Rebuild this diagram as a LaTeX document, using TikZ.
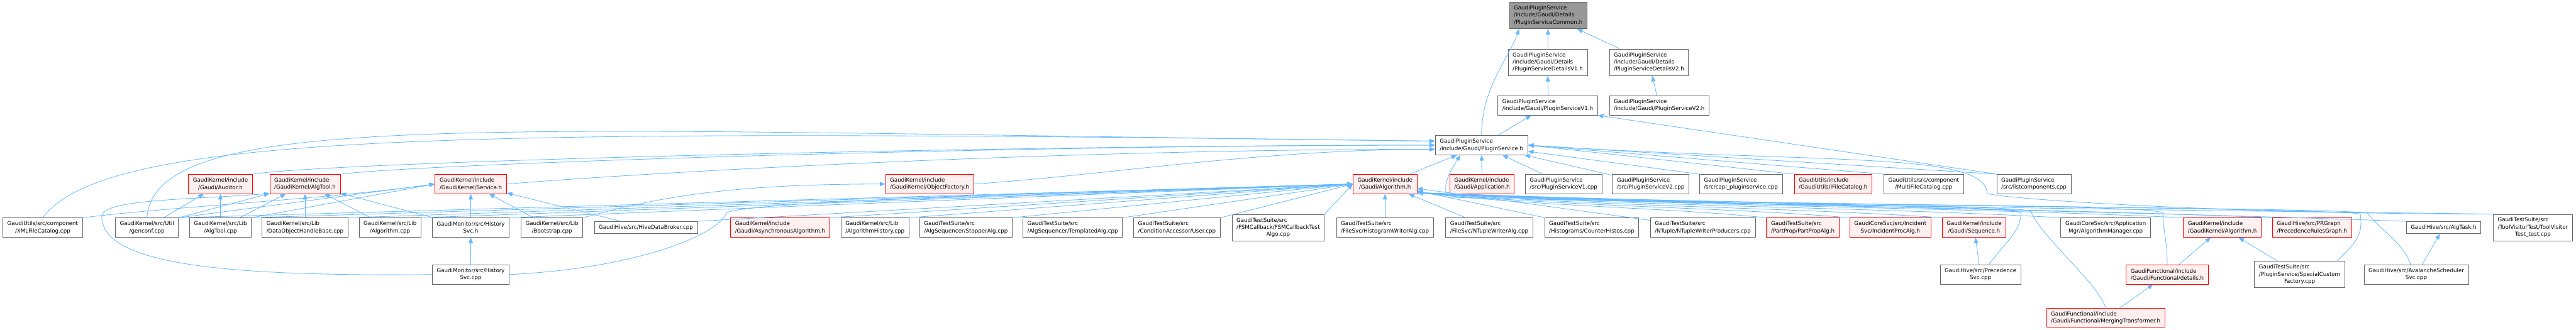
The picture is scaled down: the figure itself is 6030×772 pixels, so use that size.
\documentclass[tikz,border=0pt]{standalone}
\usepackage{fontspec}
\setmainfont{DejaVu Sans}
\usetikzlibrary{arrows.meta}
\definecolor{edgeblue}{HTML}{63B8FF}
\definecolor{boxgray}{HTML}{666666}
\definecolor{rootgray}{HTML}{999999}
\definecolor{hotfill}{HTML}{FFF0F0}
\newlength\lablen
\newcommand{\centrel}[2]{\settowidth{\lablen}{#1}\makebox[\lablen]{#2}}
\begin{document}
\begin{tikzpicture}[x=1pt,y=1pt,
  file/.style={draw=boxgray,fill=white,line width=1.3pt,inner xsep=10.5pt,inner ysep=2pt,minimum height=45pt,font=\fontsize{12.8}{16.7}\selectfont},
  hot/.style={file,draw=red,fill=hotfill},
  root/.style={file,fill=rootgray},
  one/.style={minimum height=28pt},
  three/.style={minimum height=62pt},
  inc/.style={draw=edgeblue,line width=1.2pt,-{Triangle[length=13pt,width=10pt]}}]
\useasboundingbox (0,0) rectangle (6030,-772);
\node[root,three,align=left] (common) at (3624,-36) {GaudiPluginService\\/include/Gaudi/Details\\/PluginServiceCommon.h};
\node[file,three,align=left] (detv1) at (3623,-146) {GaudiPluginService\\/include/Gaudi/Details\\/PluginServiceDetailsV1.h};
\node[file,three,align=left] (detv2) at (3860,-146) {GaudiPluginService\\/include/Gaudi/Details\\/PluginServiceDetailsV2.h};
\node[file,align=left] (psv1h) at (3623,-247) {GaudiPluginService\\/include/Gaudi/PluginServiceV1.h};
\node[file,align=left] (psv2h) at (3884,-247) {GaudiPluginService\\/include/Gaudi/PluginServiceV2.h};
\node[file,align=left] (psh) at (3468,-340) {GaudiPluginService\\/include/Gaudi/PluginService.h};
\node[hot,align=center] (auditor) at (516,-431) {GaudiKernel/include\\/Gaudi/Auditor.h};
\node[hot,align=left] (algtoolh) at (714,-431) {GaudiKernel/include\\/GaudiKernel/AlgTool.h};
\node[hot,align=left] (serviceh) at (1102,-431) {GaudiKernel/include\\/GaudiKernel/Service.h};
\node[hot,align=left] (objfact) at (2176,-431) {GaudiKernel/include\\/GaudiKernel/ObjectFactory.h};
\node[hot,align=center] (galgh) at (3242,-431) {GaudiKernel/include\\/Gaudi/Algorithm.h};
\node[hot,align=left] (apph) at (3469,-431) {GaudiKernel/include\\/Gaudi/Application.h};
\node[file,align=left] (psv1cpp) at (3660,-431) {GaudiPluginService\\/src/PluginServiceV1.cpp};
\node[file,align=left] (psv2cpp) at (3864,-431) {GaudiPluginService\\/src/PluginServiceV2.cpp};
\node[file,align=left] (capi) at (4075,-431) {GaudiPluginService\\/src/capi\_pluginservice.cpp};
\node[hot,align=left] (ifilecat) at (4291,-431) {GaudiUtils/include\\/GaudiUtils/IFileCatalog.h};
\node[file,align=center] (multicat) at (4503,-431) {GaudiUtils/src/component\\/MultiFileCatalog.cpp};
\node[file,align=left] (listcomp) at (4761,-431) {GaudiPluginService\\/src/listcomponents.cpp};
\node[file,align=center] (xmlcat) at (100,-533) {GaudiUtils/src/component\\/XMLFileCatalog.cpp};
\node[file,align=center] (genconf) at (344,-533) {GaudiKernel/src/Util\\/genconf.cpp};
\node[file,align=center] (algtoolcpp) at (516,-533) {GaudiKernel/src/Lib\\/AlgTool.cpp};
\node[file,align=left] (dohb) at (714,-533) {GaudiKernel/src/Lib\\/DataObjectHandleBase.cpp};
\node[file,align=center] (algcpp) at (913,-533) {GaudiKernel/src/Lib\\/Algorithm.cpp};
\node[file,align=center] (histsvch) at (1102,-533) {GaudiMonitor/src/History\\Svc.h};
\node[file,align=center] (bootstrap) at (1292,-533) {GaudiKernel/src/Lib\\/Bootstrap.cpp};
\node[file,one] (hivebroker) at (1512,-533) {GaudiHive/src/HiveDataBroker.cpp};
\node[hot,align=left] (asyncalg) at (1826,-533) {GaudiKernel/include\\/Gaudi/AsynchronousAlgorithm.h};
\node[file,align=left] (alghist) at (2048,-533) {GaudiKernel/src/Lib\\/AlgorithmHistory.cpp};
\node[file,align=left] (stopper) at (2261,-533) {GaudiTestSuite/src\\/AlgSequencer/StopperAlg.cpp};
\node[file,align=left] (templ) at (2511,-533) {GaudiTestSuite/src\\/AlgSequencer/TemplatedAlg.cpp};
\node[file,align=left] (user) at (2755,-533) {GaudiTestSuite/src\\/ConditionAccessor/User.cpp};
\node[file,three,align=left] (fsm) at (2992,-533) {GaudiTestSuite/src\\/FSMCallback/FSMCallbackTest\\\centrel{/FSMCallback/FSMCallbackTest}{Algo.cpp}};
\node[file,align=left] (histwriter) at (3242,-533) {GaudiTestSuite/src\\/FileSvc/HistogramWriterAlg.cpp};
\node[file,align=left] (ntwriter) at (3486,-533) {GaudiTestSuite/src\\/FileSvc/NTupleWriterAlg.cpp};
\node[file,align=left] (counter) at (3726,-533) {GaudiTestSuite/src\\/Histograms/CounterHistos.cpp};
\node[file,align=left] (ntprod) at (3986,-533) {GaudiTestSuite/src\\/NTuple/NTupleWriterProducers.cpp};
\node[hot,align=left] (partprop) at (4220,-533) {GaudiTestSuite/src\\/PartProp/PartPropAlg.h};
\node[hot,align=center] (incident) at (4425,-533) {GaudiCoreSvc/src/Incident\\Svc/IncidentProcAlg.h};
\node[hot,align=center] (sequence) at (4621,-533) {GaudiKernel/include\\/Gaudi/Sequence.h};
\node[file,align=center] (algmgr) at (4929,-533) {GaudiCoreSvc/src/Application\\Mgr/AlgorithmManager.cpp};
\node[hot,align=left] (kalgh) at (5202,-533) {GaudiKernel/include\\/GaudiKernel/Algorithm.h};
\node[hot,align=left] (prgraph) at (5412,-533) {GaudiHive/src/PRGraph\\/PrecedenceRulesGraph.h};
\node[file,one] (algtask) at (5720,-533) {GaudiHive/src/AlgTask.h};
\node[file,three,align=left] (toolvisit) at (5929,-533) {GaudiTestSuite/src\\/ToolVisitorTest/ToolVisitor\\\centrel{/ToolVisitorTest/ToolVisitor}{Test\_test.cpp}};
\node[file,align=center] (histsvccpp) at (1102,-643) {GaudiMonitor/src/History\\Svc.cpp};
\node[file,align=center] (precsvc) at (4636,-643) {GaudiHive/src/Precedence\\Svc.cpp};
\node[hot,align=left] (details) at (5073,-643) {GaudiFunctional/include\\/Gaudi/Functional/details.h};
\node[file,three,align=left] (specialcf) at (5383,-643) {GaudiTestSuite/src\\/PluginService/SpecialCustom\\\centrel{/PluginService/SpecialCustom}{Factory.cpp}};
\node[file,align=center] (avalanche) at (5656,-643) {GaudiHive/src/AvalancheScheduler\\Svc.cpp};
\node[hot,align=left] (merging) at (4929,-744) {GaudiFunctional/include\\/Gaudi/Functional/MergingTransformer.h};
\draw[inc] (detv1) -- (common);
\draw[inc] (detv2) -- (common);
\draw[inc] (psh.north) .. controls +(0,110) and +(-25,-70) .. (common.205);
\draw[inc] (psv1h) -- (detv1);
\draw[inc] (psv2h) -- (detv2);
\draw[inc] (psh) -- (psv1h);
\draw[inc] (listcomp.north west) -- (psv1h.south east);
\draw[inc] (xmlcat.north) .. controls +(150,200) and +(-2300,30) .. (psh.175);
\draw[inc] (genconf.north) .. controls +(20,260) and +(-2200,25) .. (psh.175);
\draw[inc] (auditor.north east) .. controls +(200,30) and +(-1000,0) .. (psh.180);
\draw[inc] (algtoolh.north east) .. controls +(200,25) and +(-1000,0) .. (psh.180);
\draw[inc] (serviceh.east) .. controls +(300,25) and +(-900,0) .. (psh.185);
\draw[inc] (objfact.east) .. controls +(300,20) and +(-400,0) .. (psh.185);
\draw[inc] (galgh) -- (psh);
\draw[inc] (apph) -- (psh);
\draw[inc] (psv1cpp) -- (psh);
\draw[inc] (psv2cpp) -- (psh);
\draw[inc] (capi.north west) -- (psh);
\draw[inc] (ifilecat.north west) -- (psh.east);
\draw[inc] (multicat.north west) -- (psh.east);
\draw[inc] (listcomp.north west) -- (psh.east);
\draw[inc] (toolvisit.north west) .. controls +(-600,0) and +(60,-15) .. ++(-1184,48) .. controls +(-5,100) and +(700,-45) .. (psh.east);
\draw[inc] (specialcf.20) .. controls +(55,50) and +(5,-40) .. ++(55,110) .. controls +(-20,15) and +(150,-10) .. ++(-2138,40) .. controls +(-10,30) and +(-25,-40) .. (psh.205);
\draw[inc] (genconf) -- (auditor);
\draw[inc] (genconf.north east) -- (algtoolh.195);
\draw[inc] (genconf.north east) -- (serviceh.west);
\draw[inc] (genconf.north east) -- (galgh.west);
\draw[inc] (xmlcat.north east) .. controls +(200,25) and +(-250,-35) .. (serviceh.west);
\draw[inc] (algtoolcpp) -- (auditor);
\draw[inc] (algtoolcpp) -- (algtoolh);
\draw[inc] (algtoolcpp.north east) -- (serviceh.west);
\draw[inc] (algtoolcpp.north east) -- (galgh.west);
\draw[inc] (dohb) -- (algtoolh);
\draw[inc] (dohb.north east) -- (galgh.west);
\draw[inc] (algcpp) -- (algtoolh);
\draw[inc] (algcpp.north east) -- (galgh.west);
\draw[inc] (histsvch) -- (serviceh);
\draw[inc] (histsvch) -- (algtoolh);
\draw[inc] (histsvch.north east) -- (galgh.west);
\draw[inc] (histsvccpp) -- (histsvch);
\draw[inc] (histsvccpp.west) .. controls +(-500,-5) and +(0,-110) .. ++(-773,136) .. controls +(0,40) and +(-200,-15) .. (algtoolh.195);
\draw[inc] (histsvccpp.east) .. controls +(300,15) and +(-20,-50) .. ++(507,143) .. controls +(16,30) and +(-500,-15) .. (galgh.west);
\draw[inc] (bootstrap) -- (serviceh);
\draw[inc] (bootstrap.north east) .. controls +(150,40) and +(-400,0) .. (objfact.west);
\draw[inc] (hivebroker) -- (serviceh);
\draw[inc] (hivebroker.north east) -- (galgh.west);
\draw[inc] (asyncalg.north east) -- (galgh.west);
\draw[inc] (alghist.north east) -- (galgh.west);
\draw[inc] (stopper.north east) -- (galgh.west);
\draw[inc] (templ.north east) -- (galgh.west);
\draw[inc] (user.north east) -- (galgh.west);
\draw[inc] (fsm.north east) -- (galgh.west);
\draw[inc] (histwriter) -- (galgh);
\draw[inc] (ntwriter) -- (galgh);
\draw[inc] (counter) -- (galgh);
\draw[inc] (ntprod) -- (galgh);
\draw[inc] (partprop.north west) .. controls +(-250,25) and +(330,-35) .. (galgh.-15);
\draw[inc] (incident.north west) .. controls +(-300,25) and +(400,-35) .. (galgh.-15);
\draw[inc] (sequence.north west) .. controls +(-370,25) and +(490,-35) .. (galgh.-15);
\draw[inc] (algmgr.north west) .. controls +(-450,25) and +(600,-35) .. (galgh.-15);
\draw[inc] (kalgh.north west) .. controls +(-540,25) and +(720,-35) .. (galgh.-15);
\draw[inc] (prgraph.north west) .. controls +(-600,25) and +(800,-35) .. (galgh.-15);
\draw[inc] (algtask.north west) .. controls +(-700,25) and +(920,-35) .. (galgh.-15);
\draw[inc] (toolvisit.north west) .. controls +(-750,10) and +(1000,-35) .. (galgh.-15);
\draw[inc] (precsvc) -- (sequence);
\draw[inc] (precsvc.50) .. controls +(45,60) and +(0,-40) .. ++(75,120) .. controls +(0,25) and +(560,-35) .. (galgh.-15);
\draw[inc] (details) -- (kalgh);
\draw[inc] (details.north) .. controls +(0,60) and +(0,-40) .. ++(-10,120) .. controls +(0,25) and +(700,-35) .. (galgh.-15);
\draw[inc] (specialcf) -- (kalgh);
\draw[inc] (avalanche) -- (algtask);
\draw[inc] (avalanche.120) .. controls +(-15,50) and +(30,-40) .. ++(-100,120) .. controls +(-30,15) and +(880,-35) .. (galgh.-15);
\draw[inc] (merging) -- (details);
\draw[inc] (merging.north) .. controls +(-20,60) and +(25,-60) .. ++(-175,225) .. controls +(-15,20) and +(600,-35) .. (galgh.-15);
\end{tikzpicture}
\end{document}
